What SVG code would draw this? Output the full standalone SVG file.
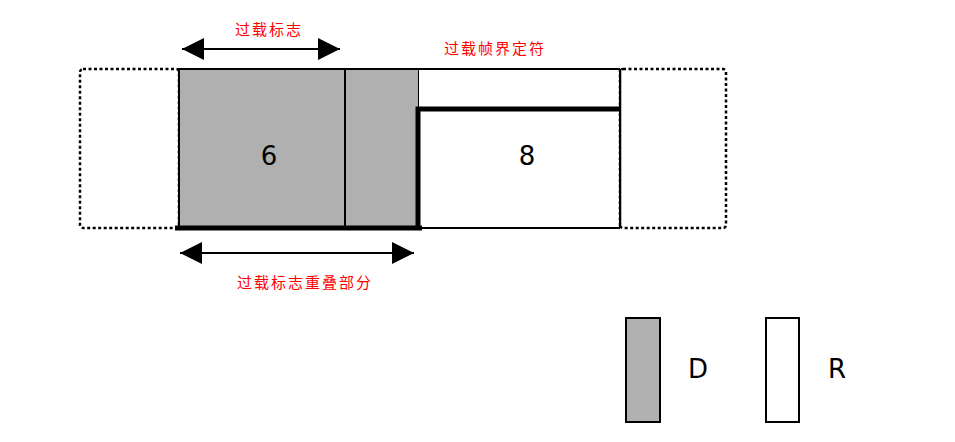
<svg xmlns="http://www.w3.org/2000/svg" width="955" height="442" viewBox="0 0 955 442">
<style>
.dot{fill:none;stroke:#000;stroke-width:2.5;stroke-dasharray:3 2.5}
.thin{fill:none;stroke:#000;stroke-width:2}
.thick{fill:none;stroke:#000;stroke-width:5}
.gray{fill:#b0b0b0;stroke:#000;stroke-width:2}
.white{fill:#fff;stroke:#000;stroke-width:2}
.lbl{font-family:"Noto Sans CJK SC","Noto Sans",sans-serif;font-size:15px;fill:#ff0000;letter-spacing:2px;text-anchor:middle}
.num{font-family:"DejaVu Sans",sans-serif;font-size:26px;fill:#000;text-anchor:middle}
</style>
<defs>
<marker id="ah" viewBox="0 0 22 22" refX="22" refY="11" markerWidth="22" markerHeight="22" markerUnits="userSpaceOnUse" orient="auto-start-reverse">
<path d="M0,0 L22,11 L0,22 Z" fill="#000"/>
</marker>
</defs>
<g id="frame-left">
<rect class="dot" x="80" y="69" width="99" height="159" rx="3"/>
</g>
<g id="frame-right">
<rect class="dot" x="620" y="69" width="106" height="159" rx="3"/>
</g>
<g id="overload-flag">
<rect class="gray" x="179" y="69" width="166" height="159"/>
<text class="num" x="269" y="165">6</text>
</g>
<g id="overlap">
<rect class="gray" x="345" y="69" width="74" height="159"/>
</g>
<g id="delimiter">
<rect fill="#fff" x="419" y="69" width="201" height="159"/>
<path class="thin" d="M419,69 H620 M419,228 H620 M620,69 V228"/>
<path class="dot" d="M620,69 V228"/>
<text class="num" x="527" y="165">8</text>
</g>
<g id="connectors">
<path class="thick" d="M418,228 V109 H620"/>
<path class="thick" d="M175,228 H422"/>
<line class="thin" x1="182" y1="49" x2="340" y2="49" marker-start="url(#ah)" marker-end="url(#ah)"/>
<line class="thin" x1="180" y1="253" x2="414" y2="253" marker-start="url(#ah)" marker-end="url(#ah)"/>
</g>
<g id="labels">
<text class="lbl" x="269" y="35">过载标志</text>
<text class="lbl" x="495" y="54">过载帧界定符</text>
<text class="lbl" x="305" y="288">过载标志重叠部分</text>
</g>
<g id="legend-D">
<rect class="gray" x="626" y="318" width="34" height="104"/>
<text class="num" x="698" y="378">D</text>
</g>
<g id="legend-R">
<rect class="white" x="766" y="318" width="33" height="104"/>
<text class="num" x="837" y="378">R</text>
</g>
</svg>
